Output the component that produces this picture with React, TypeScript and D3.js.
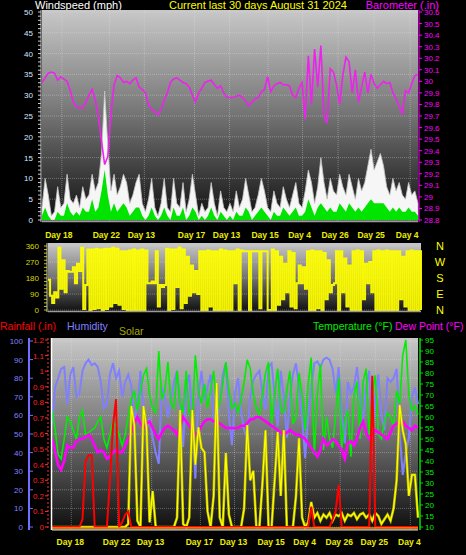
import * as d3 from "d3";

// 30 days of readings, one sample every 6 hours unless noted
const HOURS = 720;

const dayTickHours = [38, 129, 196, 292, 359, 433, 499, 567, 636, 705];
const dayTickLabels = ["Day 18", "Day 22", "Day 13", "Day 17", "Day 13", "Day 15", "Day 4", "Day 26", "Day 25", "Day 4"];

const windTicks = [0, 5, 10, 15, 20, 25, 30, 35, 40, 45, 50];
const baroTicks = [28.8, 28.9, 29, 29.1, 29.2, 29.3, 29.4, 29.5, 29.6, 29.7, 29.8, 29.9, 30, 30.1, 30.2, 30.3, 30.4, 30.5, 30.6];
const dirTicks = [0, 90, 180, 270, 360];
const compassLabels = ["N", "W", "S", "E", "N"];
const humTicks = [0, 10, 20, 30, 40, 50, 60, 70, 80, 90, 100];
const rainTicks = [0, 0.1, 0.2, 0.3, 0.4, 0.5, 0.6, 0.7, 0.8, 0.9, 1, 1.1, 1.2];
const tempTicks = [10, 15, 20, 25, 30, 35, 40, 45, 50, 55, 60, 65, 70, 75, 80, 85, 90, 95];

const windGust = [
  3, 10, 6, 1, 2, 8, 3, 4, 11, 5, 4, 6, 3, 8, 5, 6, 11, 7, 9, 16,
  31, 18, 7, 11, 6, 8, 11, 9, 4, 6, 9, 11, 4, 2, 5, 10, 3, 1, 4, 10,
  3, 2, 10, 4, 3, 9, 2, 5, 11, 6, 1, 4, 2, 3, 9, 4, 1, 7, 3, 2,
  4, 2, 7, 3, 5, 10, 6, 2, 3, 6, 10, 7, 3, 2, 7, 4, 3, 8, 5, 3,
  6, 9, 4, 3, 7, 12, 9, 4, 8, 15, 9, 5, 10, 7, 6, 11, 8, 6, 11, 8,
  5, 10, 7, 9, 13, 17, 12, 14, 16, 13, 8, 6, 10, 7, 9, 6, 5, 9, 6, 7, 4,
];
const windAvg = [
  1, 3, 1, 0, 0, 2, 1, 1, 4, 2, 1, 2, 1, 3, 2, 2, 5, 2, 3, 7,
  12, 6, 2, 4, 2, 3, 4, 3, 1, 2, 3, 3, 1, 0, 1, 3, 1, 0, 1, 3,
  1, 0, 3, 1, 1, 3, 0, 1, 3, 2, 0, 1, 0, 1, 3, 1, 0, 2, 1, 0,
  1, 0, 2, 1, 1, 3, 2, 0, 1, 2, 3, 2, 1, 0, 2, 1, 1, 3, 2, 1,
  2, 3, 1, 1, 2, 5, 3, 1, 3, 4, 3, 2, 3, 2, 2, 4, 3, 2, 4, 3,
  2, 3, 2, 3, 4, 5, 4, 4, 4, 4, 3, 2, 3, 2, 3, 2, 2, 3, 2, 2, 1,
];
const barometer = [
  29.99, 30.03, 30.07, 30.08, 30.07, 30.01, 30.04, 30.02, 30.0, 29.92,
  29.82, 29.78, 29.77, 29.77, 29.82, 29.88, 29.93, 29.84, 29.7, 29.48,
  29.28, 29.35, 29.71, 29.97, 30.05, 30.03, 29.99, 30.0, 29.98, 30.01,
  30.03, 29.95, 29.93, 29.9, 29.8, 29.76, 29.74, 29.71, 29.76, 29.84,
  29.9, 29.99, 30.02, 30.03, 30.01, 29.99, 29.98, 29.95, 29.88, 29.82,
  29.9, 29.94, 29.99, 30.0, 30.01, 29.97, 29.94, 29.96, 29.9, 29.86,
  29.86, 29.86, 29.87, 29.88, 29.86, 29.83, 29.79, 29.82, 29.85, 29.86,
  29.91, 29.93, 30.04, 29.91, 29.96, 29.98, 29.99, 29.97, 29.97, 29.96,
  29.88, 29.86, 29.94, 29.99, 29.67, 30.22, 29.8, 30.28, 29.95, 30.31,
  29.7, 29.64, 30.11, 30.08, 29.97, 29.8, 30.05, 30.21, 30.17, 29.9,
  30.1, 29.82, 29.95, 30.08, 29.9, 30.06, 29.98, 29.94, 29.97, 30.0,
  29.98, 29.99, 29.9, 29.85, 29.78, 29.72, 29.92, 29.9, 29.98, 30.05, 30.06,
];
// wind direction, one sample every 4 hours
const windDir = [
  170, 80, 40, 100, 70, 350, 120, 280, 100, 220, 215, 215, 240, 150, 260, 220, 350, 5, 140, 340,
  0, 340, 5, 345, 10, 340, 0, 345, 5, 345, 20, 350, 40, 345, 30, 330, 5, 330, 0, 335,
  0, 340, 0, 335, 0, 340, 0, 335, 150, 150, 160, 150, 330, 20, 140, 130, 140, 345, 0, 340,
  5, 340, 130, 350, 10, 340, 40, 300, 80, 250, 100, 220, 90, 330, 0, 330, 0, 335, 20, 330,
  0, 330, 0, 340, 0, 335, 0, 330, 0, 330, 150, 340, 0, 335, 330, 330, 330, 0, 330, 330,
  330, 330, 10, 330, 330, 330, 0, 0, 340, 0, 330, 30, 300, 60, 260, 100, 330, 20, 320, 10,
  150, 250, 150, 240, 120, 330, 0, 335, 0, 330, 10, 330, 0, 320, 60, 280, 100, 140, 150, 330,
  0, 330, 100, 290, 20, 250, 0, 330, 0, 335, 0, 330, 60, 260, 150, 270, 100, 330, 0, 335,
  0, 330, 0, 335, 0, 330, 0, 330, 0, 330, 60, 300, 20, 330, 0, 335, 0, 330, 0, 330, 0,
];
const humidity = [
  55, 75, 80, 85, 86, 66, 82, 86, 70, 72, 84, 88, 90, 87, 88, 86, 78, 64, 66, 82,
  88, 80, 84, 70, 78, 82, 76, 58, 65, 84, 60, 52, 59, 48, 40, 34, 75, 70, 59, 68,
  78, 84, 65, 43, 75, 82, 60, 26, 70, 84, 68, 75, 82, 60, 48, 66, 82, 88, 60, 44,
  72, 80, 62, 52, 48, 70, 79, 82, 84, 72, 63, 86, 88, 70, 54, 84, 70, 48, 70, 82,
  88, 75, 59, 37, 60, 75, 88, 89, 86, 90, 91, 90, 85, 72, 86, 60, 45, 78, 72, 75,
  86, 70, 57, 75, 84, 50, 70, 82, 60, 52, 80, 78, 80, 85, 50, 28, 40, 48, 70, 75, 66,
];
const temperature = [
  63, 55, 43, 41, 50, 60, 58, 54, 50, 60, 63, 52, 53, 54, 55, 58, 60, 50, 46, 52,
  58, 56, 52, 47, 52, 60, 68, 72, 63, 72, 79, 82, 70, 64, 62, 90, 68, 72, 85, 66,
  64, 81, 66, 62, 81, 62, 60, 88, 72, 66, 75, 64, 72, 81, 63, 66, 75, 85, 72, 64,
  66, 62, 68, 76, 86, 82, 70, 64, 61, 70, 80, 85, 57, 70, 82, 63, 62, 72, 81, 57,
  60, 80, 70, 54, 75, 87, 43, 70, 84, 45, 60, 50, 46, 61, 78, 46, 58, 63, 42, 70,
  76, 50, 76, 82, 52, 70, 79, 52, 50, 58, 62, 60, 56, 72, 66, 88, 95, 70, 63, 65, 61,
];
const dewPoint = [
  50, 45, 38, 36, 40, 47, 46, 46, 49, 50, 50, 51, 52, 50, 47, 44, 45, 44, 41, 42,
  44, 45, 44, 44, 47, 50, 53, 57, 60, 57, 55, 57, 58, 55, 52, 50, 53, 55, 56, 55,
  54, 52, 56, 60, 58, 56, 54, 52, 53, 56, 58, 59, 59, 58, 58, 57, 56, 55, 55, 55,
  55, 55, 56, 56, 57, 59, 59, 60, 60, 59, 58, 57, 56, 55, 54, 53, 52, 53, 54, 53,
  52, 52, 51, 50, 48, 46, 44, 42, 45, 50, 47, 48, 50, 49, 47, 45, 41, 48, 49, 47,
  50, 55, 58, 53, 50, 52, 54, 53, 52, 51, 50, 53, 56, 57, 58, 58, 56, 55, 54, 56, 55,
];
const solar = [
  0, 0, 0, 0, 0, 0, 0, 0, 0, 0, 0, 0, 0, 0, 0, 0, 0, 0, 0, 0,
  0, 0, 0, 0, 0, 20, 776, 654, 40, 0, 776, 635, 30, 231, 0, 0, 0, 0, 0, 0,
  0, 60, 750, 20, 0, 60, 750, 400, 640, 507, 480, 100, 0, 200, 924, 60, 0, 475, 80, 0,
  0, 0, 0, 120, 654, 300, 360, 0, 0, 280, 620, 0, 0, 300, 610, 200, 620, 0, 0, 0,
  200, 570, 60, 0, 30, 160, 60, 90, 40, 80, 60, 90, 40, 80, 70, 90, 40, 80, 70, 90,
  50, 80, 90, 60, 80, 40, 90, 70, 20, 50, 80, 40, 120, 300, 783, 620, 530, 200, 335, 335, 60,
];
const rainfall = [
  0, 0, 0, 0, 0, 0, 0, 0, 0, 0, 0.05, 0.42, 0.46, 0.46, 0, 0, 0, 0, 0, 0.3,
  0.65, 0.82, 0, 0.03, 0.08, 0.1, 0, 0, 0, 0, 0, 0, 0, 0, 0, 0, 0, 0, 0, 0,
  0, 0, 0, 0, 0, 0, 0, 0, 0, 0, 0, 0, 0, 0, 0, 0, 0, 0, 0, 0,
  0, 0, 0, 0, 0, 0, 0, 0, 0, 0, 0, 0, 0, 0, 0, 0, 0, 0, 0, 0,
  0, 0, 0, 0, 0, 0.13, 0, 0, 0, 0, 0, 0, 0.05, 0.1, 0.27, 0, 0, 0, 0, 0,
  0, 0, 0, 0, 0, 0.97, 0, 0, 0, 0, 0, 0, 0, 0, 0, 0, 0, 0, 0, 0, 0,
];

const FONT = "'Liberation Sans', Arial, sans-serif";
const hourOf = (arr: number[], i: number) => (i * HOURS) / (arr.length - 1);
const fmt = (v: number) => String(+v.toFixed(1));

type Lin = d3.ScaleLinear<number, number>;

function linePath(arr: number[], x: Lin, y: Lin, curve: d3.CurveFactory = d3.curveLinear) {
  return (
    d3
      .line<number>()
      .curve(curve)
      .x((_, i) => x(hourOf(arr, i)))
      .y((d) => y(d))(arr) ?? ""
  );
}

function areaPath(arr: number[], x: Lin, y: Lin) {
  return (
    d3
      .area<number>()
      .x((_, i) => x(hourOf(arr, i)))
      .y0(y(0))
      .y1((d) => y(d))(arr) ?? ""
  );
}

function Backdrop({ id, x0, x1, y0, y1 }: { id: string; x0: number; x1: number; y0: number; y1: number }) {
  return <rect x={x0} y={y0} width={x1 - x0} height={y1 - y0} fill={`url(#${id})`} />;
}

export default function App() {
  // top panel: wind + barometer
  const xTop = d3.scaleLinear().domain([0, HOURS]).range([42, 418]);
  const yWind = d3.scaleLinear().domain([0, 50]).range([220, 12]);
  const yBaro = d3.scaleLinear().domain([28.8, 30.6]).range([220, 12]);

  // middle panel: wind direction
  const xDir = d3.scaleLinear().domain([0, HOURS]).range([48, 421]);
  const yDir = d3.scaleLinear().domain([0, 360]).range([310, 246]);

  // bottom panel
  const xBot = d3.scaleLinear().domain([0, HOURS]).range([52, 418]);
  const yHum = d3.scaleLinear().domain([0, 100]).range([527, 341]);
  const yRain = d3.scaleLinear().domain([0, 1.2]).range([527, 340]);
  const yTemp = d3.scaleLinear().domain([10, 95]).range([527, 340]);
  const ySolar = d3.scaleLinear().domain([0, 1200]).range([527, 340]);

  const grid = "rgba(230,230,230,0.35)";

  return (
    <svg
      width={466}
      height={555}
      style={{ position: "fixed", left: 0, top: 0, background: "#000" }}
      fontFamily={FONT}
    >
      <defs>
        {["gTop", "gDir", "gBot"].map((id) => (
          <linearGradient key={id} id={id} x1="0" y1="0" x2="0" y2="1">
            <stop offset="0" stopColor="#c8c8c8" />
            <stop offset="0.45" stopColor="#7c7c7c" />
            <stop offset="1" stopColor="#0e0e0e" />
          </linearGradient>
        ))}
      </defs>
      <rect width={466} height={555} fill="#000" />

      {/* titles */}
      <text x={35} y={8.5} fill="#ffffff" fontSize={11}>Windspeed (mph)</text>
      <text x={258} y={8.5} fill="#ffff00" fontSize={11} textAnchor="middle">Current last 30 days August 31 2024</text>
      <text x={439} y={8.5} fill="#ff00ff" fontSize={11} textAnchor="end">Barometer (.in)</text>

      {/* ===== top panel ===== */}
      <Backdrop id="gTop" x0={42} x1={418} y0={10} y1={222} />
      {windTicks.map((t) => (
        <line key={t} x1={42} x2={418} y1={yWind(t)} y2={yWind(t)} stroke={grid} strokeDasharray="1,1" />
      ))}
      {dayTickHours.map((h) => (
        <line key={h} x1={xTop(h)} x2={xTop(h)} y1={10} y2={222} stroke={grid} strokeDasharray="1,1" />
      ))}
      <path d={areaPath(windGust, xTop, yWind)} fill="#f6f6f6" stroke="#c4c4c4" strokeWidth={0.8} />
      <path d={areaPath(windAvg, xTop, yWind)} fill="#00e400" />
      <path d={linePath(barometer, xTop, yBaro)} fill="none" stroke="#ee22ee" strokeWidth={1.6} />
      <line x1={42} x2={418} y1={221.5} y2={221.5} stroke="#9a9a9a" strokeWidth={1.5} />
      <line x1={41} x2={41} y1={10} y2={222} stroke="#d0d0d0" />
      <line x1={419} x2={419} y1={10} y2={222} stroke="#ff00ff" />
      {yWind.ticks(50).map((t) => (
        <line key={t} x1={38} x2={41} y1={yWind(t)} y2={yWind(t)} stroke="#cccccc" />
      ))}
      {windTicks.map((t) => (
        <text key={t} x={33} y={yWind(t) + 3} fill="#d8e8ff" fontSize={8} textAnchor="end">{t}</text>
      ))}
      {baroTicks.map((t) => (
        <g key={t}>
          <line x1={419} x2={422} y1={yBaro(t)} y2={yBaro(t)} stroke="#ff00ff" />
          <text x={424} y={yBaro(t) + 3} fill="#ff00ff" fontSize={8}>{fmt(t)}</text>
        </g>
      ))}
      {dayTickHours.map((h, i) => (
        <text key={h} x={xTop(h) - 3} y={238} fill="#eeee00" fontSize={8.5} fontWeight="bold" textAnchor="middle">
          {dayTickLabels[i]}
        </text>
      ))}

      {/* ===== wind direction panel ===== */}
      <Backdrop id="gDir" x0={48} x1={421} y0={243} y1={312} />
      {dirTicks.map((t) => (
        <line key={t} x1={48} x2={421} y1={yDir(t)} y2={yDir(t)} stroke={grid} strokeDasharray="1,1" />
      ))}
      <path
        d={linePath(windDir, xDir, yDir, d3.curveStepAfter)}
        fill="none"
        stroke="#ffff00"
        strokeWidth={2}
        strokeOpacity={0.95}
      />
      <line x1={48} x2={421} y1={311.5} y2={311.5} stroke="#9a9a9a" strokeWidth={1.5} />
      <line x1={47} x2={47} y1={243} y2={312} stroke="#d0d0d0" />
      {yDir.ticks(24).map((t) => (
        <line key={t} x1={44} x2={47} y1={yDir(t)} y2={yDir(t)} stroke="#c8c800" />
      ))}
      {dirTicks.map((t) => (
        <text key={t} x={39} y={yDir(t) + 3} fill="#d8d800" fontSize={8} textAnchor="end">{t}</text>
      ))}
      {compassLabels.map((c, i) => (
        <text key={i} x={440} y={yDir(dirTicks[4 - i]) + 4} fill="#ffff00" fontSize={11} textAnchor="middle">{c}</text>
      ))}

      {/* legend for bottom panel */}
      <text x={0} y={330} fill="#ff0000" fontSize={10.5}>Rainfall (.in)</text>
      <text x={67} y={330} fill="#8080ff" fontSize={10.5}>Humidity</text>
      <text x={119} y={335} fill="#a8a800" fontSize={10.5}>Solar</text>
      <text x={313} y={330} fill="#00ee00" fontSize={10.5}>Temperature (°F)</text>
      <text x={395} y={330} fill="#ff00ff" fontSize={10.5}>Dew Point (°F)</text>

      {/* ===== bottom panel ===== */}
      <Backdrop id="gBot" x0={52} x1={418} y0={338} y1={530} />
      {humTicks.map((t) => (
        <line key={t} x1={52} x2={418} y1={yHum(t)} y2={yHum(t)} stroke={grid} strokeDasharray="1,1" />
      ))}
      {dayTickHours.map((h) => (
        <line key={h} x1={xBot(h)} x2={xBot(h)} y1={338} y2={530} stroke={grid} strokeDasharray="1,1" />
      ))}
      <path d={linePath(humidity, xBot, yHum)} fill="none" stroke="#8080ff" strokeWidth={2} />
      <path d={linePath(temperature, xBot, yTemp)} fill="none" stroke="#00ee00" strokeWidth={1.6} />
      <path d={linePath(dewPoint, xBot, yTemp)} fill="none" stroke="#ff00ff" strokeWidth={2.6} />
      <path d={linePath(solar, xBot, ySolar)} fill="none" stroke="#b8b800" strokeWidth={2.6} />
      <path d={linePath(solar, xBot, ySolar)} fill="none" stroke="#ffff00" strokeWidth={1.2} />
      <path d={linePath(rainfall, xBot, yRain)} fill="none" stroke="#ff0000" strokeWidth={2} />
      <line x1={52} x2={418} y1={528} y2={528} stroke="#ff9000" strokeWidth={1.5} />
      <line x1={52} x2={418} y1={529.8} y2={529.8} stroke="#d8d8d8" strokeWidth={1.2} />
      <line x1={51.5} x2={51.5} y1={338} y2={530} stroke="#ffffff" strokeWidth={1.5} />
      <line x1={29} x2={29} y1={338} y2={530} stroke="#7070ff" strokeWidth={2} />
      <line x1={48} x2={48} y1={338} y2={530} stroke="#ff3030" strokeDasharray="2,2" />
      <line x1={420} x2={420} y1={338} y2={530} stroke="#00e000" strokeWidth={1.5} />
      {humTicks.map((t) => (
        <g key={t}>
          <line x1={29} x2={33} y1={yHum(t)} y2={yHum(t)} stroke="#7070ff" />
          <text x={23} y={yHum(t) + 3} fill="#8080ff" fontSize={8} textAnchor="end">{t}</text>
        </g>
      ))}
      {rainTicks.map((t) => (
        <g key={t}>
          <line x1={45} x2={48} y1={yRain(t)} y2={yRain(t)} stroke="#ff3030" />
          <text x={44} y={yRain(t) + 3} fill="#ff2020" fontSize={8} textAnchor="end">{fmt(t)}</text>
        </g>
      ))}
      {tempTicks.map((t) => (
        <g key={t}>
          <line x1={420} x2={423} y1={yTemp(t)} y2={yTemp(t)} stroke="#00e000" />
          <text x={425} y={yTemp(t) + 3} fill="#00ee00" fontSize={8}>{t}</text>
        </g>
      ))}
      {dayTickHours.map((h, i) => (
        <text key={h} x={xBot(h) - 1} y={545} fill="#eeee00" fontSize={8.5} fontWeight="bold" textAnchor="middle">
          {dayTickLabels[i]}
        </text>
      ))}
    </svg>
  );
}
